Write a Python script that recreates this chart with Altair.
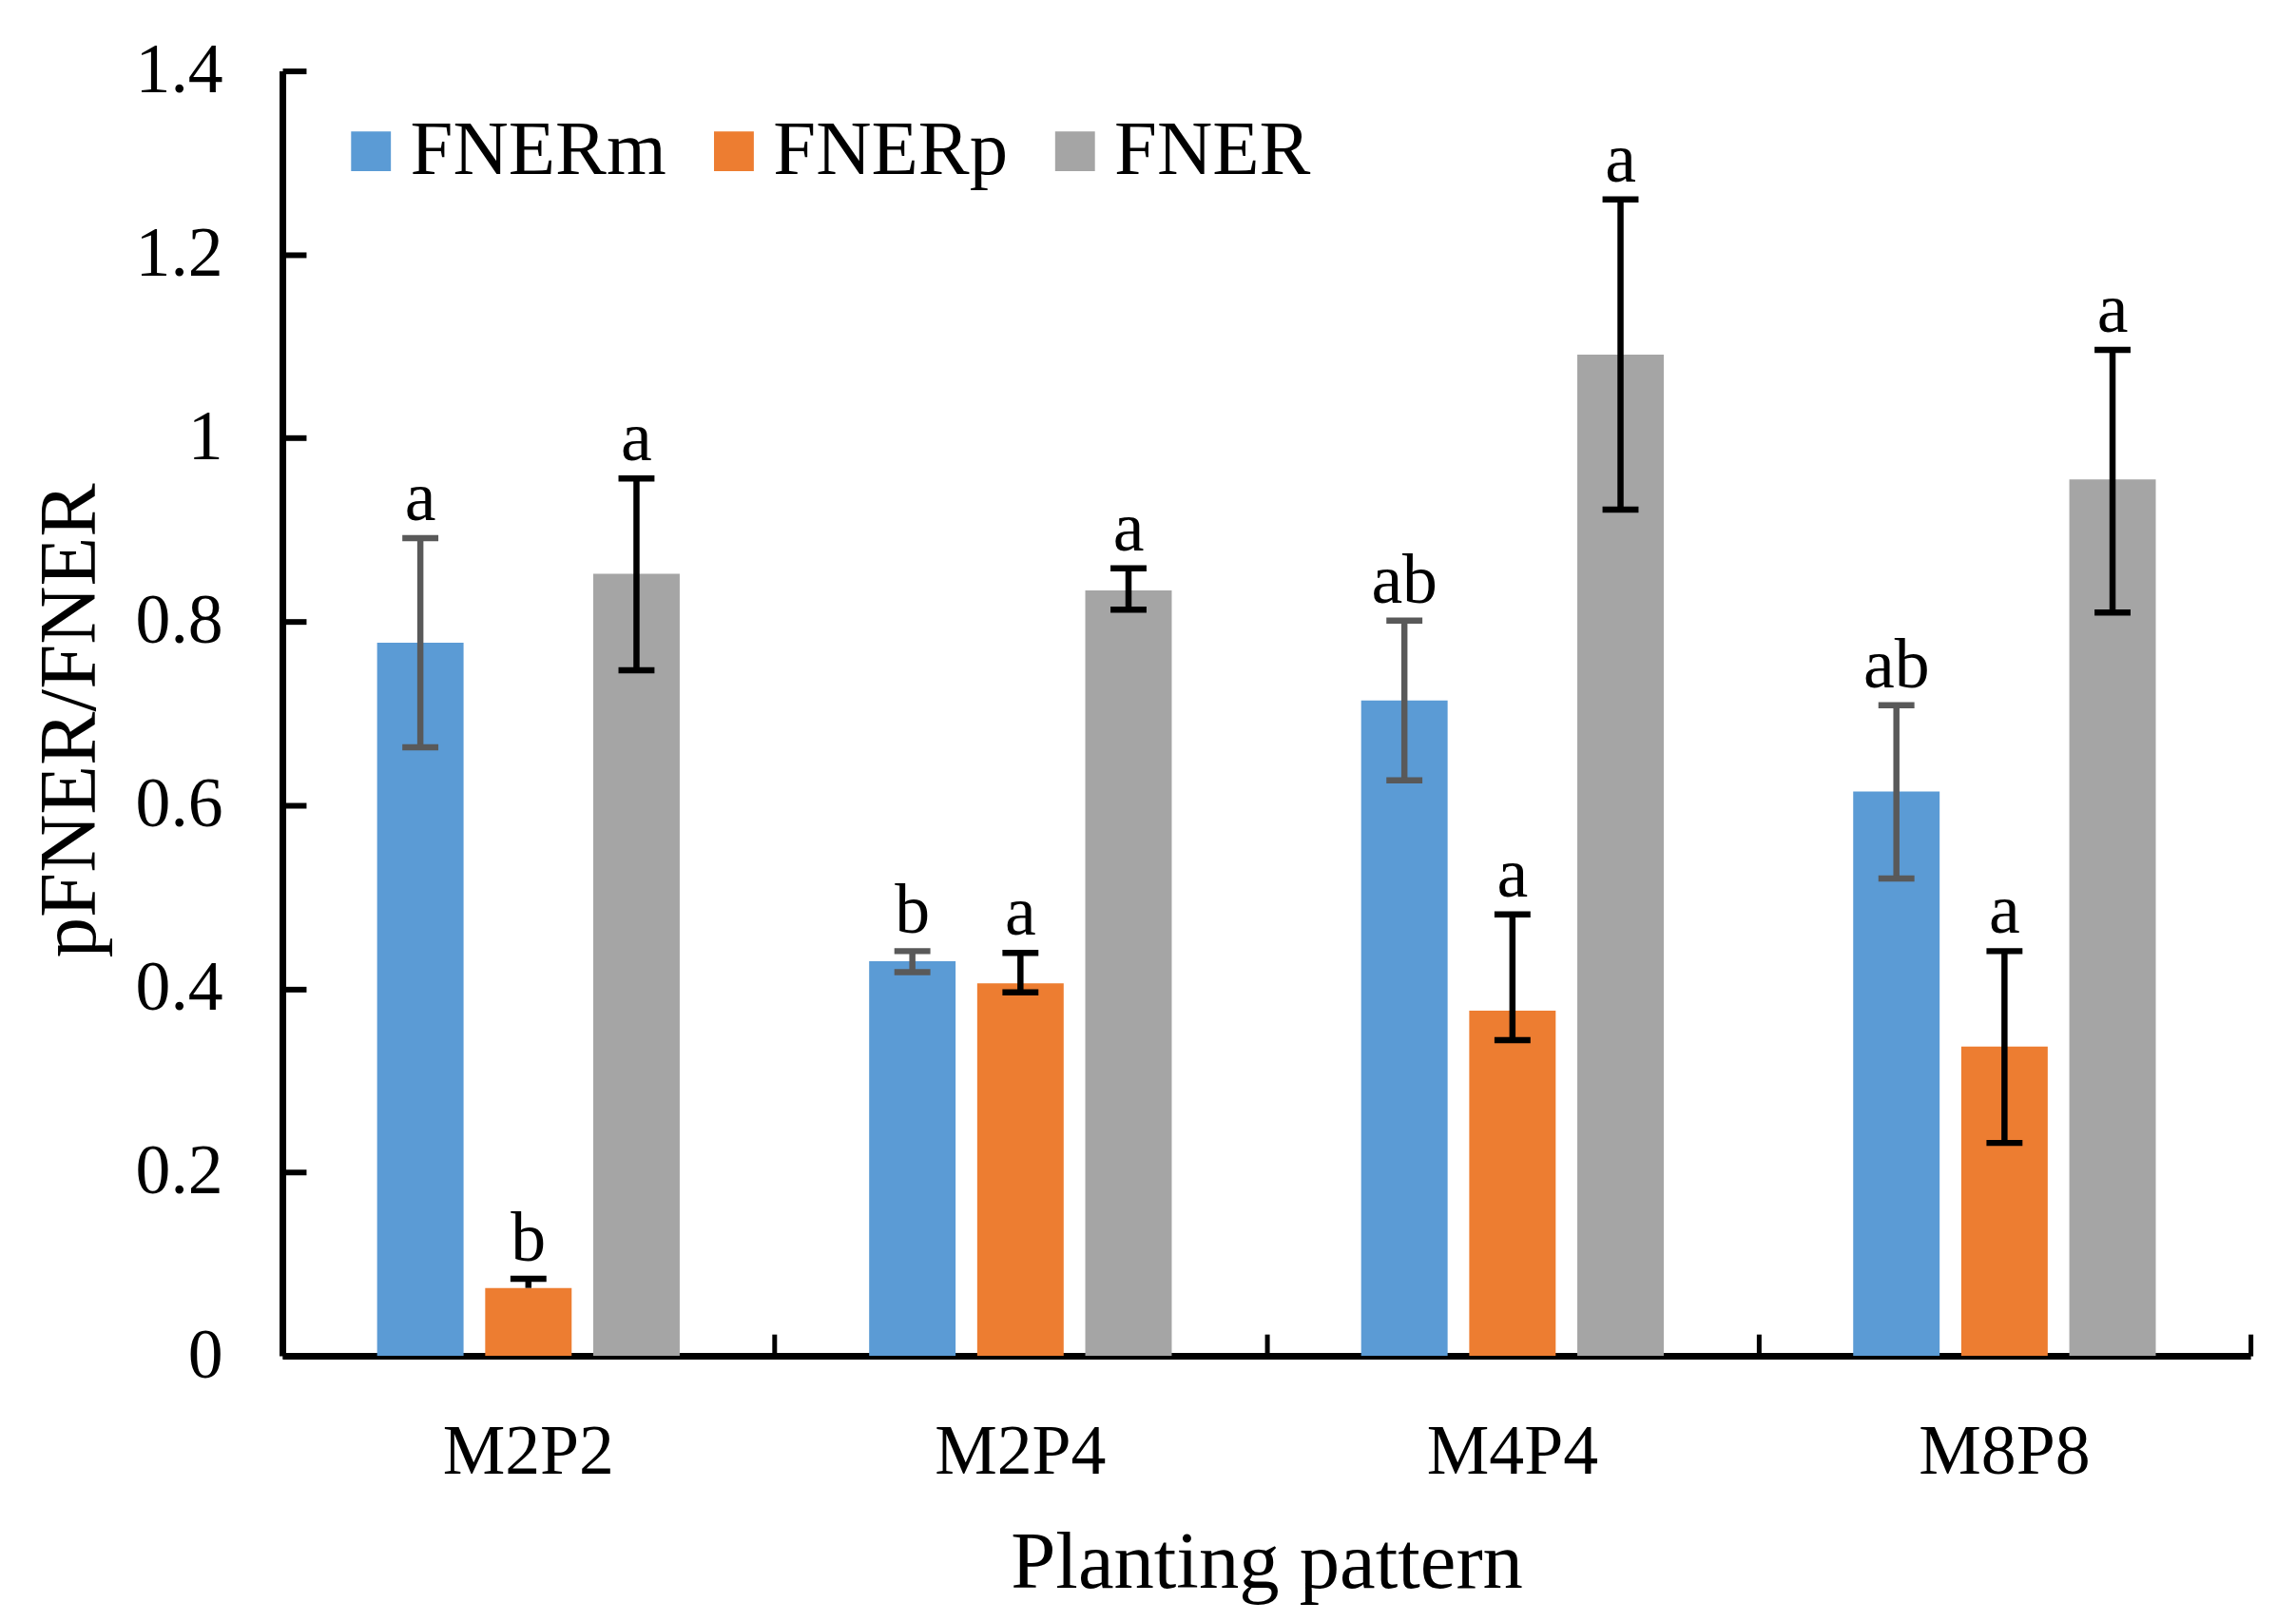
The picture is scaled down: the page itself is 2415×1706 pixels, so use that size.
import altair as alt
import pandas as pd

# categories and series
patterns = ["M2P2", "M2P4", "M4P4", "M8P8"]
series = ["FNERm", "FNERp", "FNER"]

# bar heights
fnerm = [0.777, 0.430, 0.714, 0.615]
fnerp = [0.074, 0.406, 0.376, 0.337]
fner = [0.852, 0.834, 1.091, 0.955]

# error bar ends (upper / lower)
fnerm_hi = [0.891, 0.441, 0.801, 0.709]
fnerm_lo = [0.663, 0.418, 0.627, 0.520]
fnerp_hi = [0.084, 0.439, 0.481, 0.441]
fnerp_lo = [None, 0.396, 0.344, 0.232]
fner_hi = [0.956, 0.858, 1.260, 1.096]
fner_lo = [0.747, 0.813, 0.922, 0.810]

# significance letters
fnerm_letters = ["a", "b", "ab", "ab"]
fnerp_letters = ["b", "a", "a", "a"]
fner_letters = ["a", "a", "a", "a"]

y_ticks = [0, 0.2, 0.4, 0.6, 0.8, 1.0, 1.2, 1.4]

BAR_COLORS = ["#5B9BD5", "#ED7D31", "#A5A5A5"]
ERR_COLORS = {"FNERm": "#595959", "FNERp": "#000000", "FNER": "#000000"}
FONT = "Liberation Serif"

W, H = 2077, 1356

rows = []
for s, vals, his, los, labs in zip(
    series,
    [fnerm, fnerp, fner],
    [fnerm_hi, fnerp_hi, fner_hi],
    [fnerm_lo, fnerp_lo, fner_lo],
    [fnerm_letters, fnerp_letters, fner_letters],
):
    for p, v, h, l, lab in zip(patterns, vals, his, los, labs):
        rows.append({
            "pattern": p, "series": s, "value": v, "hi": h,
            "lo": l, "stem_lo": v if l is None else l,
            "letter": lab, "ecolor": ERR_COLORS[s],
        })
df = pd.DataFrame(rows)

x_scale = alt.Scale(paddingInner=0.385, paddingOuter=0.1925)
off_scale = alt.Scale(paddingInner=0.2, paddingOuter=0)
y_scale = alt.Scale(domain=[0, 1.4], nice=False)

base = alt.Chart(df)

bars = base.mark_bar(opacity=1).encode(
    x=alt.X("pattern:N", sort=patterns, scale=x_scale,
            axis=alt.Axis(title="Planting pattern", labelAngle=0, ticks=False, tickSize=0,
                          labelPadding=124, labelBaseline="alphabetic", labelLimit=0,
                          labelFont=FONT, labelFontSize=74, labelColor="black",
                          domainColor="black", domainWidth=7,
                          titleFont=FONT, titleFontSize=85, titleFontWeight="normal",
                          titleColor="black", titleY=244, titleBaseline="alphabetic")),
    xOffset=alt.XOffset("series:N", sort=series, scale=off_scale),
    y=alt.Y("value:Q", scale=y_scale,
            axis=alt.Axis(title="pFNER/FNER", values=y_ticks, format="~g", grid=False,
                          ticks=False, tickSize=0, labelPadding=63, labelLimit=0,
                          labelFont=FONT, labelFontSize=74, labelColor="black",
                          domainColor="black", domainWidth=7,
                          titleFont=FONT, titleFontSize=85, titleFontWeight="normal",
                          titleColor="black", titleX=-224, titleY=685,
                          titleAngle=270, titleBaseline="middle", titleAlign="center")),
    color=alt.Color("series:N", sort=series,
                    scale=alt.Scale(domain=series, range=BAR_COLORS),
                    legend=alt.Legend(title=None, orient="none", legendX=53, legendY=44,
                                      direction="horizontal", symbolType="square",
                                      symbolSize=1764, symbolStrokeWidth=0, symbolOpacity=1,
                                      labelFont=FONT, labelFontSize=81, labelColor="black",
                                      labelLimit=0, labelOffset=1, columnPadding=30,
                                      padding=0)),
)

# error bar stems, also carrying the inward tick-only y axis
stems = base.mark_rule(strokeWidth=6.5, opacity=1).encode(
    x=alt.X("pattern:N", sort=patterns, scale=x_scale, axis=None),
    xOffset=alt.XOffset("series:N", sort=series, scale=off_scale),
    y=alt.Y("stem_lo:Q", scale=y_scale,
            axis=alt.Axis(orient="right", offset=-W, labels=False, domain=False, title=None,
                          values=y_ticks, grid=False, tickSize=25, tickWidth=6,
                          tickColor="black", zindex=1)),
    y2="hi:Q",
    color=alt.Color("ecolor:N", scale=None),
)

# upper caps, also carrying the inward tick-only x axis (ticks between groups)
cap_hi = base.mark_tick(size=38, thickness=6.5, opacity=1).encode(
    x=alt.X("pattern:N", sort=patterns, scale=x_scale,
            axis=alt.Axis(orient="top", offset=-H, labels=False, domain=False, title=None,
                          tickOffset=W / 8, tickSize=23, tickWidth=5, tickColor="black",
                          zindex=1)),
    xOffset=alt.XOffset("series:N", sort=series, scale=off_scale),
    y=alt.Y("hi:Q", scale=y_scale, axis=None),
    color=alt.Color("ecolor:N", scale=None),
)

cap_lo = base.mark_tick(size=38, thickness=6.5, opacity=1).encode(
    x=alt.X("pattern:N", sort=patterns, scale=x_scale, axis=None),
    xOffset=alt.XOffset("series:N", sort=series, scale=off_scale),
    y=alt.Y("lo:Q", scale=y_scale, axis=None),
    color=alt.Color("ecolor:N", scale=None),
)

letters = base.mark_text(font=FONT, fontSize=74, baseline="alphabetic", dy=-19,
                         color="black").encode(
    x=alt.X("pattern:N", sort=patterns, scale=x_scale, axis=None),
    xOffset=alt.XOffset("series:N", sort=series, scale=off_scale),
    y=alt.Y("hi:Q", scale=y_scale, axis=None),
    text="letter:N",
)

chart = alt.layer(bars, stems, cap_hi, cap_lo, letters).resolve_axis(
    x="independent", y="independent"
).properties(
    width=W,
    height=H,
    autosize=alt.AutoSizeParams(type="none"),
    padding={"left": 290, "top": 64, "right": 40, "bottom": 270},
    background="white",
).configure_view(stroke=None).configure_legend(symbolOpacity=1)

chart.save("out.html", embed_options={"renderer": "svg", "actions": False})
